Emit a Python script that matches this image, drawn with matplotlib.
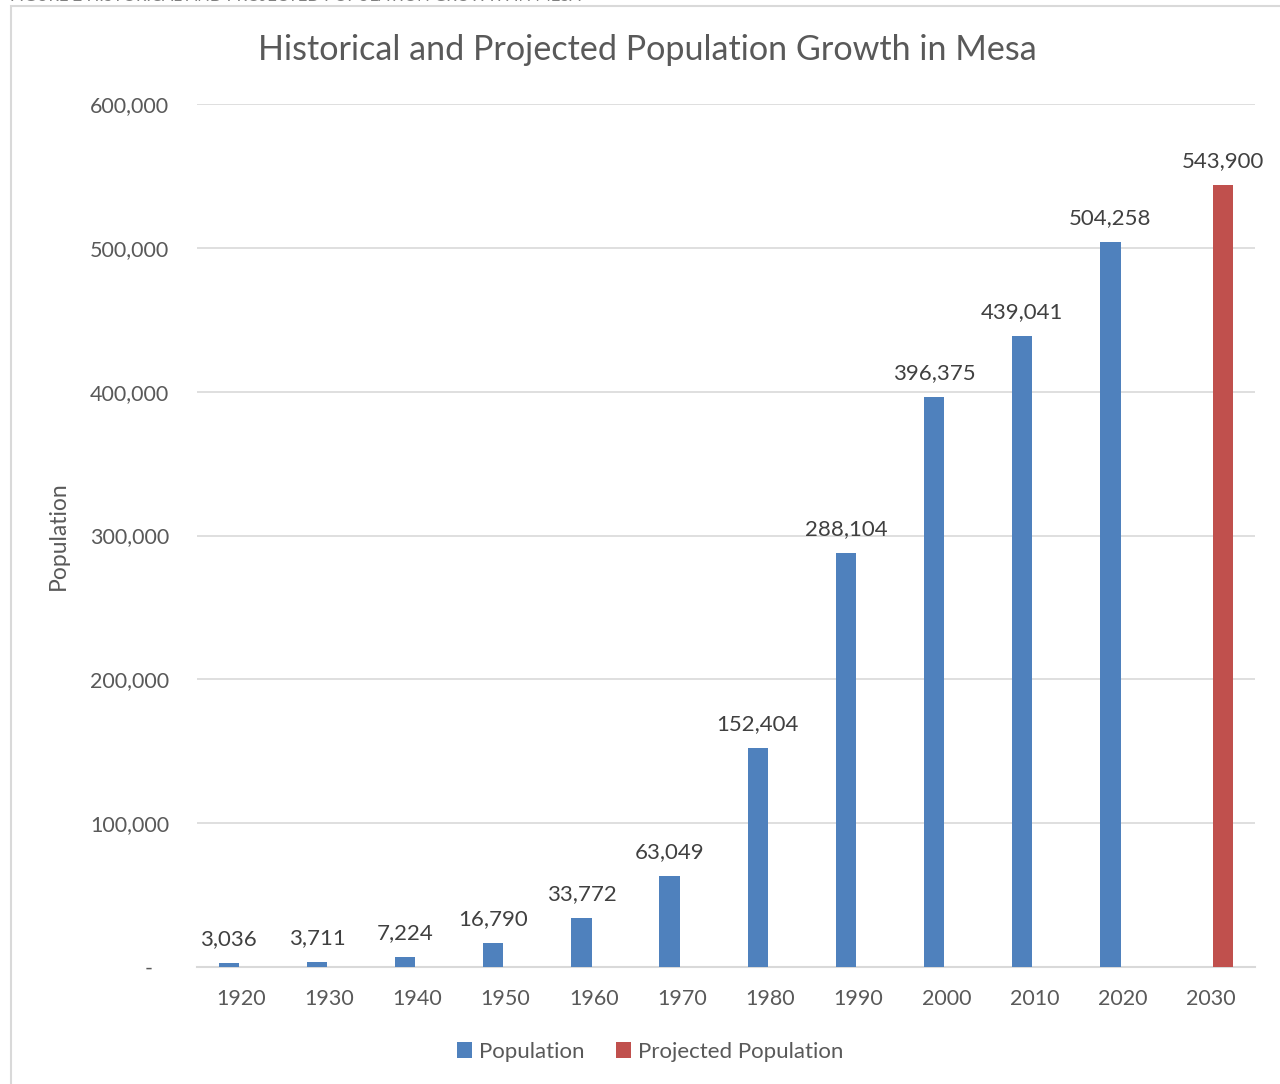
import numpy as np
import matplotlib.pyplot as plt
from matplotlib.patches import Rectangle
from matplotlib.ticker import FuncFormatter

plt.rcParams['font.family'] = ['Lato', 'DejaVu Sans']

years = ['1920', '1930', '1940', '1950', '1960', '1970', '1980',
         '1990', '2000', '2010', '2020', '2030']
population = [3036, 3711, 7224, 16790, 33772, 63049, 152404,
              288104, 396375, 439041, 504258, np.nan]
projected = [np.nan] * 11 + [543900]

BLUE = '#4f81bd'
RED = '#c0504d'
TEXT = '#595959'
GRID = '#d9d9d9'

fig = plt.figure(figsize=(12.8, 10.84), dpi=100)
ax = fig.add_axes([197 / 1280, 1 - 967 / 1084, 1058 / 1280, 863 / 1084])

x = np.arange(len(years))
w = 0.23
off = 0.14
b1 = ax.bar(x - off, population, w, color=BLUE, label='Population', zorder=3)
b2 = ax.bar(x + off, projected, w, color=RED, label='Projected Population', zorder=3)

for bars, vals in ((b1, population), (b2, projected)):
    for bar, v in zip(bars, vals):
        if np.isnan(v):
            continue
        ax.annotate(f'{int(v):,}', (bar.get_x() + bar.get_width() / 2, v),
                    xytext=(0, 10), textcoords='offset points',
                    ha='center', va='bottom', fontsize=16, color='#404040')


def acct(v, pos):
    # accounting style: zero shows as a dash with some right padding
    return '-\u2002 ' if v == 0 else f'{int(v):,}'


ax.set_xlim(-0.5, len(years) - 0.5)
ax.set_ylim(0, 600000)
ax.set_yticks(np.arange(0, 600001, 100000))
ax.yaxis.set_major_formatter(FuncFormatter(acct))
ax.set_xticks(x)
ax.set_xticklabels(years)
ax.tick_params(axis='both', length=0, labelsize=15.5, colors=TEXT)
ax.tick_params(axis='y', pad=20)
ax.tick_params(axis='x', pad=16)
ax.grid(axis='y', color=GRID, linewidth=1.2, zorder=0)
for side in ('top', 'right', 'left'):
    ax.spines[side].set_visible(False)
ax.spines['bottom'].set_color(GRID)
ax.spines['bottom'].set_linewidth(1.5)

ax.set_ylabel('Population', fontsize=16.5, color=TEXT, labelpad=15)
fig.text(0.5 + 7 / 1280, 1 - 50 / 1084, 'Historical and Projected Population Growth in Mesa',
         ha='center', va='center', fontsize=24.6, color=TEXT)

ax.legend(loc='center', bbox_to_anchor=(0.5 + 10 / 1280, 1 - 1052 / 1084),
          bbox_transform=fig.transFigure,
          ncol=2, frameon=False, fontsize=16, labelcolor=TEXT,
          handlelength=0.7, handleheight=0.7, handletextpad=0.3, columnspacing=1.4)

# chart frame and the caption above it
fig.patches.append(Rectangle((11 / 1280, -0.01), 1.1, 1 - 6 / 1084 + 0.01,
                             transform=fig.transFigure, fill=False,
                             edgecolor='#d9d9d9', linewidth=1.5))
fig.text(10 / 1280, 1 + 4 / 1084, 'FIGURE 2 HISTORICAL AND PROJECTED POPULATION GROWTH IN MESA',
         ha='left', va='center', fontsize=12, color='#7f7f7f')

fig.savefig('out.png', dpi=100)
